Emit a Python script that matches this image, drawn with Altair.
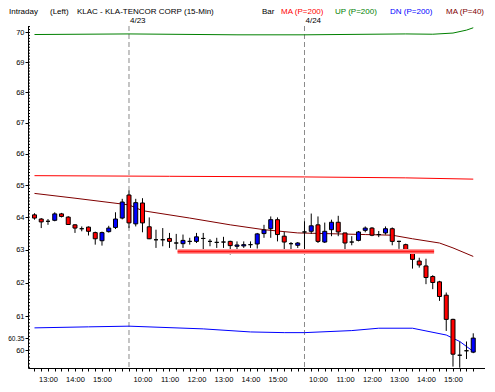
import altair as alt
import pandas as pd
import numpy as np

# ---------------- data ----------------
opens = [64.07, 63.94, 63.87, 63.90, 64.10, 64.00, 63.76, 63.64, 63.69, 63.52, 63.27, 63.55, 63.68, 63.97,
         64.69, 63.79, 64.44, 63.70, 63.30, 63.30, 63.34, 63.20, 63.18, 63.25, 63.25, 63.34, 63.25, 63.22,
         63.23, 63.25, 63.10, 63.11, 63.15, 63.17, 63.49, 63.64, 63.92, 63.41, 63.18, 63.13,
         63.54, 63.56, 63.76, 63.23, 63.61, 63.84, 63.51, 63.23, 63.28, 63.59, 63.66, 63.46, 63.51, 63.64,
         63.25, 63.15, 62.90, 62.65, 62.50, 62.18, 62.02, 61.62, 60.90, 59.85, 59.98, 59.94]
highs = [64.12, 63.97, 63.94, 64.15, 64.13, 64.03, 63.78, 63.71, 63.71, 63.55, 63.55, 63.73, 64.15, 64.57,
         64.83, 64.57, 64.59, 63.99, 63.61, 63.66, 63.51, 63.48, 63.46, 63.36, 63.51, 63.51, 63.32, 63.36,
         63.39, 63.27, 63.25, 63.25, 63.25, 63.51, 63.76, 64.02, 63.99, 63.54, 63.23, 63.23,
         63.87, 64.11, 64.02, 63.83, 63.92, 64.04, 63.51, 63.41, 63.57, 63.71, 63.69, 63.57, 63.71, 63.68,
         63.27, 63.18, 62.93, 62.75, 62.72, 62.22, 62.05, 61.70, 60.92, 60.25, 60.25, 60.49]
lows = [63.92, 63.66, 63.76, 63.87, 63.99, 63.76, 63.51, 63.56, 63.43, 63.15, 63.12, 63.52, 63.63, 63.93,
        63.66, 63.71, 63.53, 63.32, 63.05, 63.10, 63.05, 63.00, 63.05, 63.15, 63.20, 63.00, 63.10, 63.05,
        63.05, 62.85, 63.00, 63.05, 63.05, 63.03, 63.36, 63.36, 63.25, 63.00, 62.95, 63.05,
        63.00, 63.48, 63.20, 63.20, 63.41, 63.41, 62.90, 63.13, 63.25, 63.53, 63.41, 63.38, 63.46, 63.13,
        63.02, 62.90, 62.42, 62.45, 61.95, 61.80, 61.45, 60.56, 59.52, 59.49, 59.74, 59.91]
closes = [63.97, 63.85, 63.87, 64.10, 64.02, 63.77, 63.66, 63.64, 63.56, 63.33, 63.52, 63.66, 63.94, 64.47,
          63.82, 64.45, 63.82, 63.33, 63.30, 63.30, 63.25, 63.20, 63.28, 63.25, 63.39, 63.34, 63.25, 63.22,
          63.23, 63.12, 63.14, 63.15, 63.15, 63.48, 63.60, 63.92, 63.46, 63.23, 63.18, 63.20,
          63.54, 63.73, 63.25, 63.56, 63.84, 63.54, 63.20, 63.23, 63.54, 63.66, 63.44, 63.46, 63.64, 63.25,
          63.25, 62.95, 62.70, 62.53, 62.15, 62.00, 61.58, 60.90, 59.88, 59.85, 59.98, 60.35]

def day_times(start_min, n):
    return [f"{(start_min + 15 * k) // 60}:{(start_min + 15 * k) % 60:02d}" for k in range(n)]

bar_times = day_times(750, 14) + day_times(570, 26) + day_times(570, 26)
day_starts = [14, 40]
day_names = ["4/23", "4/24"]

up_idx = [0, 14, 30, 40, 55, 59, 62, 64, 65]
up_val = [69.93, 69.95, 69.92, 69.92, 69.95, 69.94, 69.98, 70.08, 70.16]
ma200_idx = [0, 20, 40, 55, 65]
ma200_val = [65.30, 65.28, 65.26, 65.23, 65.19]
ma40_idx = [0, 6, 14, 16, 23, 29, 34, 39, 49, 53, 56, 60, 62, 65]
ma40_val = [64.74, 64.59, 64.38, 64.20, 63.97, 63.76, 63.61, 63.51, 63.46, 63.44, 63.33, 63.20, 63.05, 62.79]
dn_idx = [0, 8, 14, 25, 32, 37, 40, 47, 51, 56, 58, 61, 63, 65]
dn_val = [60.65, 60.68, 60.70, 60.62, 60.53, 60.51, 60.51, 60.57, 60.64, 60.64, 60.56, 60.44, 60.25, 59.96]

support_idx = [21.2, 59.2]
support_val = 62.94
last_price = 60.35
y_labels = [60, 60.35, 61, 62, 63, 64, 65, 66, 67, 68, 69, 70]

# ---------------- build tables ----------------
n = len(opens)
candles = pd.DataFrame({
    "i": list(range(n)), "o": opens, "h": highs, "l": lows, "c": closes,
})
candles["dir"] = np.where(candles["c"] > candles["o"], "up",
                          np.where(candles["c"] < candles["o"], "down", "flat"))

lines = pd.concat([
    pd.DataFrame({"i": up_idx, "v": up_val, "s": "UP"}),
    pd.DataFrame({"i": ma200_idx, "v": ma200_val, "s": "MA200"}),
    pd.DataFrame({"i": ma40_idx, "v": ma40_val, "s": "MA40"}),
    pd.DataFrame({"i": dn_idx, "v": dn_val, "s": "DN"}),
])

AXFONT = "Liberation Sans, Arial, sans-serif"
TXFONT = "Liberation Sans, Arial, sans-serif"

xscale = alt.Scale(domain=[-0.22, 66.0], nice=False, zero=False)
yscale = alt.Scale(type="log", domain=[59.48, 70.22], nice=False, zero=False)

label_arr = "[" + ",".join("'" + (t if t.endswith(':00') else '') + "'" for t in bar_times) + "]"
xaxis = alt.Axis(values=list(range(n)), labelExpr=label_arr + "[datum.value]", title=None,
                 tickSize=3, labelPadding=4, labelOverlap=False, labelFlush=False, grid=False,
                 labelFont=AXFONT, labelFontSize=7.5, labelColor="black", domainColor="black",
                 tickColor="black")
yaxis = alt.Axis(values=y_labels, format="~g", title=None, tickSize=3, labelPadding=1,
                 labelOverlap=False, grid=False, labelFont=AXFONT,
                 labelFontSize={"condition": {"test": f"datum.value == {last_price}", "value": 6.5},
                                "value": 7.5},
                 labelColor="black", domainColor="black", tickColor="black")

X = lambda f: alt.X(f, type="quantitative", scale=xscale, axis=xaxis)
Y = lambda f: alt.Y(f, type="quantitative", scale=yscale, axis=yaxis)

base = alt.Chart(candles)

day_df = pd.DataFrame({"i": day_starts, "name": day_names})
day_rules = alt.Chart(day_df).mark_rule(
    color="#8a8a8a", strokeDash=[5, 3], strokeWidth=1).encode(x=X("i"))
day_text = alt.Chart(day_df).mark_text(
    align="left", baseline="middle", dx=1, font=TXFONT, fontSize=8, color="black").encode(
    x=X("i"), y=alt.value(-5), text="name:N")

line_layer = alt.Chart(lines).mark_line(strokeWidth=1).encode(
    x=X("i"), y=Y("v"), detail="s:N",
    color=alt.Color("s:N", scale=alt.Scale(domain=["UP", "MA200", "MA40", "DN"],
                                           range=["#008000", "#ff0000", "#800000", "#0000ff"]),
                    legend=None))

minor = pd.DataFrame({"v": np.round(np.arange(59.5, 70.21, 0.1), 2)})
minor_ticks = alt.Chart(minor).mark_rule(color="black", strokeWidth=1).encode(
    x=alt.value(0), x2=alt.value(2), y=Y("v"))

wicks = base.mark_rule(color="black", strokeWidth=1).encode(x=X("i"), y=Y("l"), y2="h")
bodies = base.mark_bar(size=4, stroke="black", strokeWidth=1).encode(
    x=X("i"), y=Y("o"), y2="c",
    fill=alt.Fill("dir:N", scale=alt.Scale(domain=["up", "down", "flat"],
                                           range=["#0000ff", "#ff0000", "#000000"]), legend=None))

sup_df = pd.DataFrame({"i1": [support_idx[0]], "i2": [support_idx[1]], "v": [support_val]})
sup_glow = alt.Chart(sup_df).mark_rule(color="#ff9a9a", strokeWidth=5).encode(
    x=X("i1"), x2="i2", y=Y("v"))
sup_core = alt.Chart(sup_df).mark_rule(color="#ff1a1a", strokeWidth=2).encode(
    x=X("i1"), x2="i2", y=Y("v"))

header_items = [
    ("Intraday", "black", -19), ("(Left)", "black", 22),
    ("KLAC - KLA-TENCOR CORP  (15-Min)", "black", 49), ("Bar", "black", 234),
    ("MA (P=200)", "#ff0000", 253), ("UP (P=200)", "#008000", 307),
    ("DN (P=200)", "#0000ff", 362), ("MA (P=40)", "#800000", 418),
]
headers = []
for txt, col, px in header_items:
    headers.append(alt.Chart(pd.DataFrame({"t": [txt]})).mark_text(
        align="left", baseline="middle", font=TXFONT, fontSize=8, color=col).encode(
        x=alt.value(px), y=alt.value(-14), text="t:N"))

chart = alt.layer(day_rules, line_layer, minor_ticks, wicks, bodies, sup_glow, sup_core,
                  day_text, *headers).properties(
    width=457, height=342,
    padding={"left": 20, "top": 18, "right": 0, "bottom": 14},
    autosize=alt.AutoSizeParams(type="none"),
    background="white",
).configure_view(stroke=None)

chart.save("out.html", embed_options={"renderer": "svg", "actions": False})
